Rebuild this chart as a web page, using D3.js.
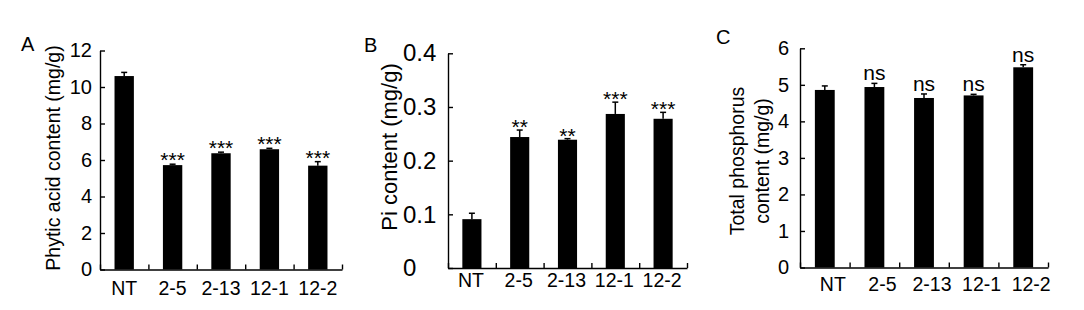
<!DOCTYPE html>
<html>
<head>
<meta charset="utf-8">
<script src="https://cdn.jsdelivr.net/npm/d3@7"></script>
<style>
  body { margin: 0; background: #fff; }
  svg { display: block; }
</style>
</head>
<body>
<script>
// Lines shared by all three panels
var categories = ["NT", "2-5", "2-13", "12-1", "12-2"];

// A: phytic acid (mg/g)
var phyticMean = [10.6, 5.72, 6.37, 6.59, 5.69];
var phyticErr  = [0.2, 0.05, 0.06, 0.05, 0.22];
var phyticSig  = ["", "***", "***", "***", "***"];
var phyticTicks = [0, 2, 4, 6, 8, 10, 12];

// B: Pi (mg/g)
var piMean = [0.091, 0.244, 0.239, 0.287, 0.278];
var piErr  = [0.011, 0.013, 0.002, 0.022, 0.012];
var piSig  = ["", "**", "**", "***", "***"];
var piTicks = [0, 0.1, 0.2, 0.3, 0.4];

// C: total phosphorus (mg/g)
var totalMean = [4.86, 4.94, 4.64, 4.71, 5.48];
var totalErr  = [0.11, 0.1, 0.11, 0.03, 0.07];
var totalSig  = ["", "ns", "ns", "ns", "ns"];
var totalTicks = [0, 1, 2, 3, 4, 5, 6];

var svg = d3.select("body").append("svg")
    .attr("width", 1084)
    .attr("height", 310)
    .style("font-family", "'Liberation Sans', Arial, sans-serif");

function drawPanel(p) {
  // Bands for the bars, plain linear scale for the tick marks on the x axis
  var x = d3.scaleBand()
      .domain(categories)
      .range([p.left, p.right])
      .paddingInner(0.6)
      .paddingOuter(0.3);

  var y = d3.scaleLinear()
      .domain([0, d3.max(p.ticks)])
      .range([p.bottom, p.top]);

  // y axis, ticks pointing inward
  var gy = svg.append("g")
      .attr("transform", "translate(" + p.left + ",0)")
      .call(d3.axisLeft(y)
        .tickValues(p.ticks)
        .tickSizeInner(-5)
        .tickSizeOuter(0)
        .tickPadding(p.tickPad)
        .tickFormat(function(d) { return String(d); }))
      .attr("font-family", null)
      .attr("font-size", null);
  gy.select(".domain").attr("stroke", "#000").attr("stroke-width", 1.4);
  gy.selectAll(".tick line").attr("stroke", "#000").attr("stroke-width", 1.4);
  gy.selectAll(".tick text")
      .attr("fill", "#000")
      .attr("font-size", p.tickSize);
  if (p.tickAlign === "start") {
    gy.selectAll(".tick text").attr("text-anchor", "start").attr("x", p.tickX - p.left);
  }

  // x axis, ticks between categories pointing up
  var xb = d3.scaleLinear().domain([0, categories.length]).range([p.left, p.right]);
  var gx = svg.append("g")
      .attr("transform", "translate(0," + p.bottom + ")")
      .call(d3.axisBottom(xb)
        .ticks(categories.length)
        .tickSizeInner(-5)
        .tickSizeOuter(0)
        .tickFormat(""));
  gx.select(".domain").attr("stroke", "#000").attr("stroke-width", 1.4);
  gx.selectAll(".tick line").attr("stroke", "#000").attr("stroke-width", 1.4);

  // category labels
  svg.append("g").selectAll("text")
      .data(categories)
      .enter().append("text")
      .attr("x", function(d) { return x(d) + x.bandwidth() / 2 + p.labelDx; })
      .attr("y", p.labelY)
      .attr("text-anchor", "middle")
      .attr("font-size", 19.5)
      .text(function(d) { return d; });

  // bars
  svg.append("g").selectAll("rect")
      .data(p.mean)
      .enter().append("rect")
      .attr("x", function(d, i) { return x(categories[i]); })
      .attr("y", function(d) { return y(d); })
      .attr("width", x.bandwidth())
      .attr("height", function(d) { return p.bottom - y(d); })
      .attr("fill", "#000");

  // upper error bars
  var eb = svg.append("g").attr("stroke", "#000").attr("stroke-width", 1.5);
  p.mean.forEach(function(m, i) {
    var cx = x(categories[i]) + x.bandwidth() / 2;
    var top = y(m + p.err[i]);
    eb.append("line").attr("x1", cx).attr("x2", cx).attr("y1", y(m)).attr("y2", top);
    eb.append("line").attr("x1", cx - 3).attr("x2", cx + 3).attr("y1", top).attr("y2", top);
  });

  // significance marks
  svg.append("g").selectAll("text")
      .data(p.sig)
      .enter().append("text")
      .attr("x", function(d, i) { return x(categories[i]) + x.bandwidth() / 2; })
      .attr("y", function(d, i) { return y(p.mean[i] + p.err[i]) + p.sigDy; })
      .attr("text-anchor", "middle")
      .attr("font-size", p.sigSize)
      .text(function(d) { return d; });

  // axis title (one or two lines)
  p.title.forEach(function(t, i) {
    svg.append("text")
        .attr("transform", "translate(" + p.titleX[i] + "," + p.titleY + ") rotate(-90)")
        .attr("text-anchor", "middle")
        .attr("font-size", p.titleSize)
        .text(t);
  });

  // panel letter
  svg.append("text")
      .attr("x", p.letterX)
      .attr("y", p.letterY)
      .attr("font-size", 20)
      .text(p.letter);
}

drawPanel({
  letter: "A", letterX: 21, letterY: 51,
  left: 100, right: 342, top: 50.5, bottom: 269.5,
  ticks: phyticTicks, mean: phyticMean, err: phyticErr, sig: phyticSig,
  tickPad: 8, tickSize: 20, titleSize: 19.5, sigSize: 21, sigDy: 3,
  labelY: 295, labelDx: 0,
  title: ["Phytic acid content (mg/g)"], titleX: [60], titleY: 158
});

drawPanel({
  letter: "B", letterX: 364, letterY: 52,
  left: 448, right: 687, top: 53.3, bottom: 268,
  ticks: piTicks, mean: piMean, err: piErr, sig: piSig,
  tickPad: 8, tickAlign: "start", tickX: 403, tickSize: 24, titleSize: 22, sigSize: 21, sigDy: 4,
  labelY: 287, labelDx: -1,
  title: ["Pi content (mg/g)"], titleX: [397], titleY: 147
});

drawPanel({
  letter: "C", letterX: 716, letterY: 44,
  left: 800, right: 1048, top: 48.3, bottom: 267.5,
  ticks: totalTicks, mean: totalMean, err: totalErr, sig: totalSig,
  tickPad: 11, tickSize: 20, titleSize: 19.5, sigSize: 21, sigDy: -3,
  labelY: 291, labelDx: 8,
  title: ["Total phosphorus", "content (mg/g)"], titleX: [744, 769], titleY: 161
});
</script>
</body>
</html>
